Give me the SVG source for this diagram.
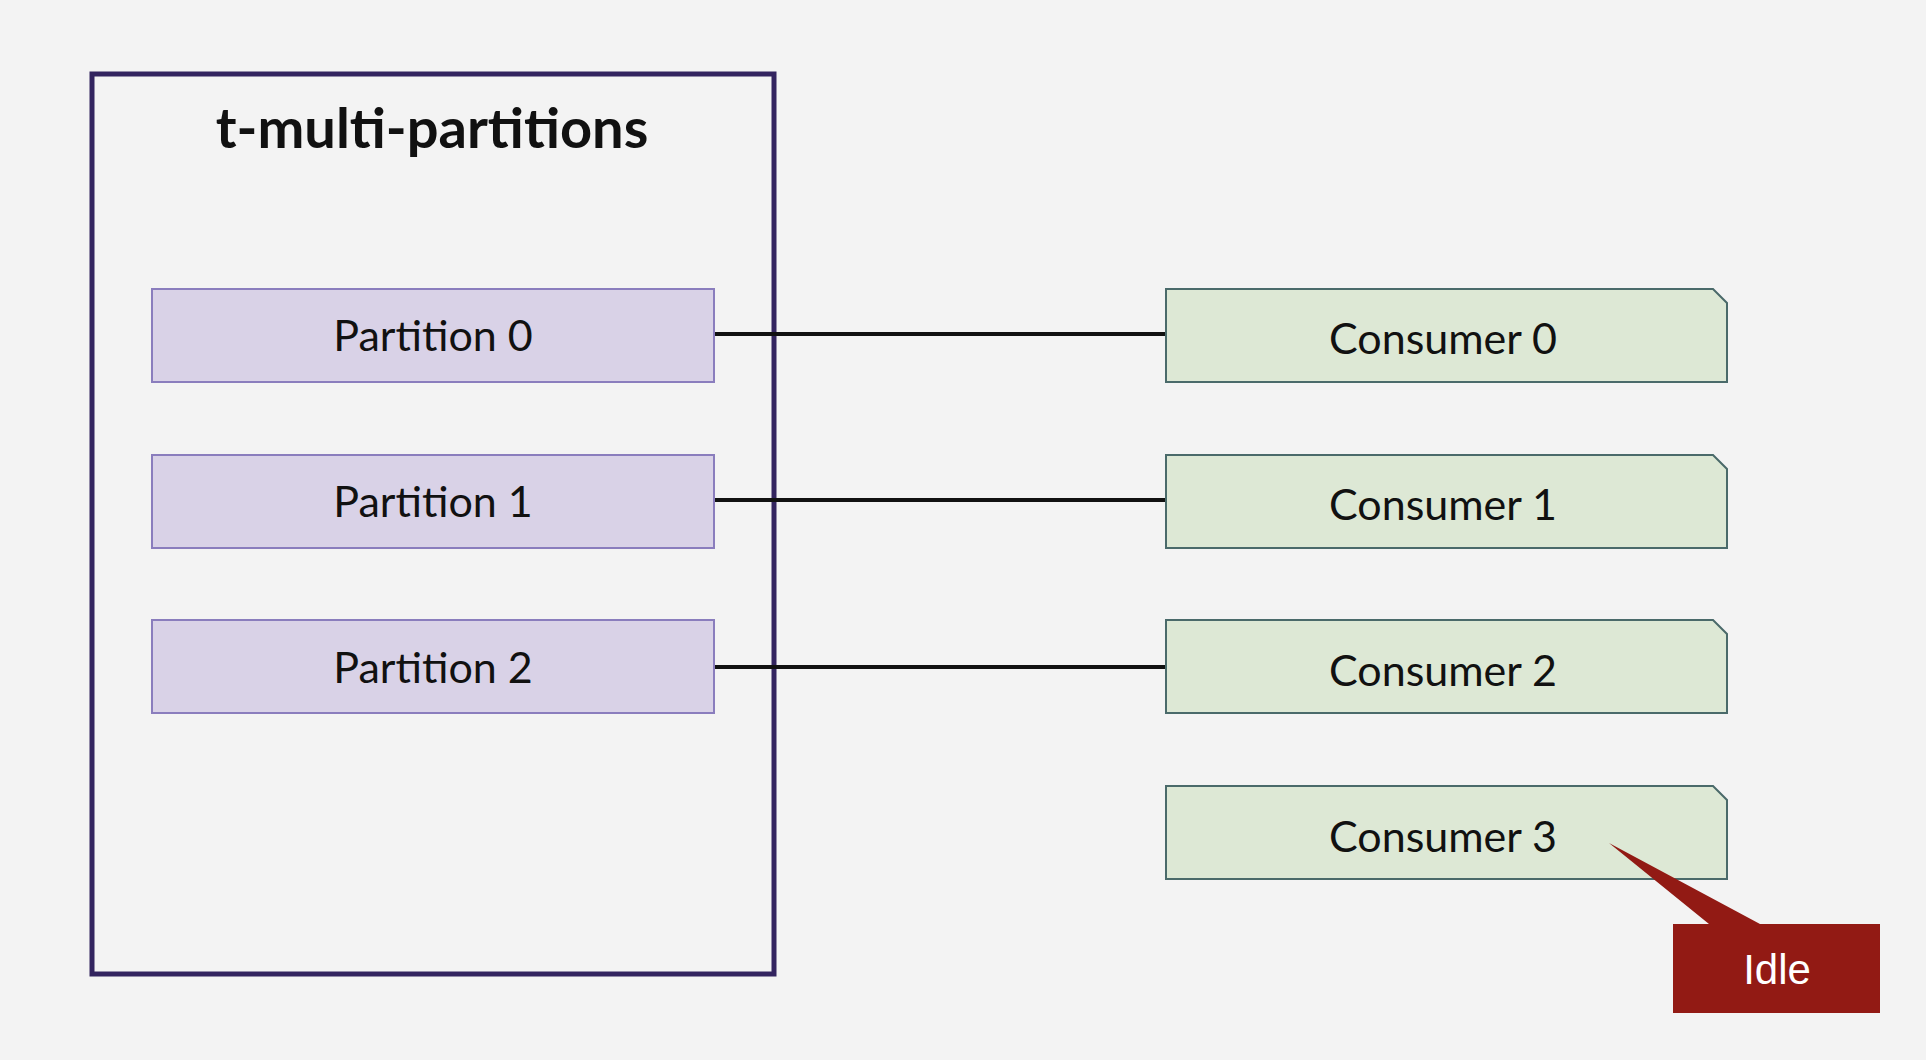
<svg xmlns="http://www.w3.org/2000/svg" width="1926" height="1060" viewBox="0 0 1926 1060">
<style>
.lbl{font-family:Lato,"Open Sans","Liberation Sans",sans-serif;font-size:43px;fill:#111;text-anchor:middle}
.part{fill:#d9d2e7;stroke:#8a7dbd;stroke-width:2}
.cons{fill:#dde8d5;stroke:#4a6a6a;stroke-width:2}
.conn{stroke:#111;stroke-width:4;fill:none}
</style>
<rect x="0" y="0" width="1926" height="1060" fill="#f3f3f3"/>
<g id="topic">
<rect x="92" y="74" width="682" height="900" fill="none" stroke="#33245f" stroke-width="5"/>
<text x="432" y="148" font-family="Lato,'Open Sans','Liberation Sans',sans-serif" font-size="56" font-weight="bold" fill="#111" text-anchor="middle">t-multi-partitions</text>
</g>
<g id="connectors">
<line class="conn" x1="714" y1="334" x2="1166" y2="334"/>
<line class="conn" x1="714" y1="500" x2="1166" y2="500"/>
<line class="conn" x1="714" y1="667" x2="1166" y2="667"/>
</g>
<g id="partition0"><rect class="part" x="152" y="289" width="562" height="93"/><text class="lbl" x="433" y="351">Partition 0</text></g>
<g id="partition1"><rect class="part" x="152" y="455" width="562" height="93"/><text class="lbl" x="433" y="517">Partition 1</text></g>
<g id="partition2"><rect class="part" x="152" y="620" width="562" height="93"/><text class="lbl" x="433" y="683">Partition 2</text></g>
<g id="consumer0"><path class="cons" d="M1166 289H1713L1727 303V382H1166Z"/><text class="lbl" x="1443" y="354">Consumer 0</text></g>
<g id="consumer1"><path class="cons" d="M1166 455H1713L1727 469V548H1166Z"/><text class="lbl" x="1443" y="520">Consumer 1</text></g>
<g id="consumer2"><path class="cons" d="M1166 620H1713L1727 634V713H1166Z"/><text class="lbl" x="1443" y="686">Consumer 2</text></g>
<g id="consumer3"><path class="cons" d="M1166 786H1713L1727 800V879H1166Z"/><text class="lbl" x="1443" y="852">Consumer 3</text></g>
<g id="idle">
<path d="M1673 924H1709L1609 843L1760 924H1880V1013H1673Z" fill="#921a14"/>
<text x="1777" y="984" font-family="'Liberation Sans',Arial,sans-serif" font-size="42" fill="#fff" text-anchor="middle">Idle</text>
</g>
</svg>
